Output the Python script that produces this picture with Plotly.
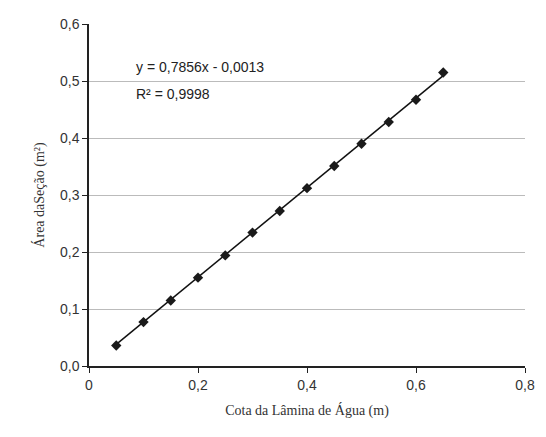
import plotly.graph_objects as go

cota = [0.05, 0.10, 0.15, 0.20, 0.25, 0.30, 0.35, 0.40, 0.45, 0.50, 0.55, 0.60, 0.65]
area = [0.036, 0.077, 0.115, 0.155, 0.194, 0.234, 0.272, 0.312, 0.351, 0.390, 0.428, 0.467, 0.515]
slope = 0.7856
intercept = -0.0013
x_ticks = [0, 0.2, 0.4, 0.6, 0.8]
x_labels = ["0", "0,2", "0,4", "0,6", "0,8"]
y_ticks = [0, 0.1, 0.2, 0.3, 0.4, 0.5, 0.6]
y_labels = ["0,0", "0,1", "0,2", "0,3", "0,4", "0,5", "0,6"]

trend_x = [min(cota), max(cota)]
trend_y = [slope * v + intercept for v in trend_x]

fig = go.Figure()
fig.add_trace(go.Scatter(x=trend_x, y=trend_y, mode="lines",
                         line=dict(color="#111111", width=1.5), showlegend=False))
fig.add_trace(go.Scatter(x=cota, y=area, mode="markers",
                         marker=dict(symbol="diamond", size=8, color="#1a1a1a"),
                         showlegend=False))

fig.add_annotation(x=0.083, y=0.524, xref="x", yref="y", xanchor="left", yanchor="middle",
                   text="y = 0,7856x - 0,0013", showarrow=False,
                   font=dict(family="Liberation Sans, Arial", size=14, color="#222222"))
fig.add_annotation(x=0.083, y=0.477, xref="x", yref="y", xanchor="left", yanchor="middle",
                   text="R² = 0,9998", showarrow=False,
                   font=dict(family="Liberation Sans, Arial", size=14, color="#222222"))

# page body has an 8px default margin, so the figure is sized to fit inside the window
fig.update_layout(
    width=538, height=421,
    margin=dict(l=81, r=21, t=16, b=63),
    paper_bgcolor="white", plot_bgcolor="white",
    font=dict(family="Liberation Sans, Arial", size=14, color="#333333"),
)
fig.update_xaxes(range=[0, 0.8], tickvals=x_ticks, ticktext=x_labels, automargin=False,
                 showgrid=False, zeroline=False,
                 showline=True, linecolor="#222222", linewidth=1.5,
                 ticks="outside", ticklen=5, tickcolor="#222222",
                 title=dict(text="Cota da Lâmina de Água (m)", standoff=14,
                            font=dict(family="Liberation Serif, DejaVu Serif", size=14, color="#333333")))
fig.update_yaxes(range=[0, 0.6], tickvals=y_ticks, ticktext=y_labels, automargin=False,
                 showgrid=True, gridcolor="#bbbbbb", gridwidth=1.2, zeroline=False,
                 showline=True, linecolor="#222222", linewidth=1.5,
                 ticks="outside", ticklen=5, tickcolor="#222222",
                 title=dict(text="Área daSeção (m²)", standoff=12,
                            font=dict(family="Liberation Serif, DejaVu Serif", size=14, color="#333333")))

fig.write_html("out.html")
